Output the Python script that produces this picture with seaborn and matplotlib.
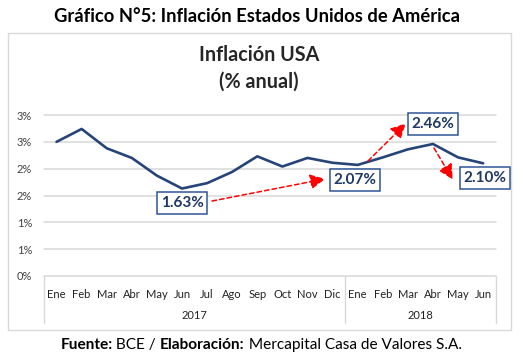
import matplotlib
matplotlib.use("Agg")
import matplotlib.pyplot as plt
import seaborn as sns
import pandas as pd
import numpy as np
from matplotlib.patches import Rectangle
from matplotlib.transforms import blended_transform_factory

# ---------------- data ----------------
months = ["Ene", "Feb", "Mar", "Abr", "May", "Jun", "Jul", "Ago", "Sep", "Oct", "Nov", "Dic",
          "Ene", "Feb", "Mar", "Abr", "May", "Jun"]
month_year = ["2017"] * 12 + ["2018"] * 6
inflation = [2.50, 2.74, 2.38, 2.20, 1.87, 1.63, 1.73, 1.94, 2.23, 2.04, 2.20, 2.11,
             2.07, 2.21, 2.36, 2.46, 2.21, 2.10]
highlight_idx = [5, 12, 15, 17]
yticks = [0, 0.5, 1.0, 1.5, 2.0, 2.5, 3.0]

df = pd.DataFrame({"idx": np.arange(len(months)), "mes": months, "anio": month_year, "valor": inflation})

sns.set_theme(style="white")
FONT = ["Lato", "DejaVu Sans"]
plt.rcParams["font.family"] = FONT

LINE = "#264478"
TXT = "#1F3864"
GRID = "#D9D9D9"
RED = "#FF0000"

fig = plt.figure(figsize=(5.23, 3.61), dpi=100)
W, H = 523, 361

# outer chart frame
fig.patches.append(Rectangle((8 / W, 1 - 330 / H), 503 / W, 297 / H, transform=fig.transFigure,
                             facecolor="none", edgecolor=GRID, lw=1.0, zorder=-1))

ax = fig.add_axes([44 / W, 1 - 276 / H, (495.7 - 44) / W, (276 - 115) / H])
ax.set_facecolor("none")
ax.set_zorder(2)

sns.lineplot(data=df, x="idx", y="valor", ax=ax, color=LINE, lw=1.9, zorder=3)

ax.set_xlim(-0.5, len(months) - 0.5)
ax.set_ylim(0, 3.0)
ax.set_yticks(yticks)
ax.set_yticklabels([f"{int(np.floor(v + 0.5))}%" for v in yticks])
ax.set_xticks(df["idx"])
ax.set_xticklabels(months)
ax.tick_params(axis="y", length=0, pad=8.5, labelsize=8, labelcolor="#404040")
ax.tick_params(axis="x", length=0, pad=9, labelsize=8, labelcolor="#222222")
ax.set_xlabel("")
ax.set_ylabel("")
for s in ax.spines.values():
    s.set_visible(False)
ax.grid(False)
for v in yticks:
    ax.axhline(v, color=GRID, lw=1.1, zorder=1, clip_on=False)

# year group labels and separators
bt = blended_transform_factory(ax.transData, ax.transAxes)
years = list(dict.fromkeys(month_year))
start = 0
bounds = [-0.5]
for y in years:
    n = month_year.count(y)
    ax.text(start + (n - 1) / 2, -0.245, y, transform=bt, ha="center", va="center",
            fontsize=8, color="#222222")
    start += n
    bounds.append(start - 0.5)
for b in bounds:
    ax.plot([b, b], [0, -0.295], transform=bt, color=GRID, lw=1.0, clip_on=False)

# titles
fig.text(256.5 / W, 1 - 17 / H, "Gráfico N°5: Inflación Estados Unidos de América",
         ha="center", va="center", fontsize=13.2, fontweight="bold", color="black")
fig.text(259 / W, 1 - 55 / H, "Inflación USA", ha="center", va="center",
         fontsize=14.2, fontweight="bold", color="#262626")
fig.text(259 / W, 1 - 82 / H, "(% anual)", ha="center", va="center",
         fontsize=14.2, fontweight="bold", color="#262626")

# footer (mixed bold/regular)
parts = [("Fuente:", "bold"), (" BCE / ", "normal"), ("Elaboración:", "bold"),
         (" Mercapital Casa de Valores S.A.", "normal")]
texts = []
for t, w in parts:
    a = fig.text(0, 1 - 345 / H, t, fontsize=11.1, fontweight=w, ha="left", va="center",
                 color="black")
    texts.append(a)
fig.canvas.draw()
r = fig.canvas.get_renderer()
widths = [t.get_window_extent(r).width for t in texts]
total = sum(widths)
x = 261 - total / 2
for t, wdt in zip(texts, widths):
    t.set_position((x / W, 1 - 345 / H))
    x += wdt


# helper: data point + screen pixel offset (dy positive = down) -> figure pixels
def fpx(i, dx, dy):
    px, py = ax.transData.transform((i, inflation[i]))
    return (px + dx, py - dy)


# labelled boxes
box_offsets = {5: (0, 14.5), 12: (-2.6, 15), 15: (0, -20), 17: (2, 15)}
for i in highlight_idx:
    dx, dy = box_offsets[i]
    ax.annotate(f"{inflation[i]:.2f}%", xy=fpx(i, dx, dy), xycoords="figure pixels",
                ha="center", va="center", fontsize=11, fontweight="bold", color=TXT,
                annotation_clip=False, zorder=6,
                bbox=dict(boxstyle="square,pad=0.25", fc="white", ec="#2F5597", lw=1.1))

# red dashed arrows
arrows = [((5, 30, 12.5), (12, -32.6, 14)),
          ((12, 10.4, -4), (15, -27.2, -20.5)),
          ((15, 1, 4), (17, -30.4, 16.2))]
for (i0, dx0, dy0), (i1, dx1, dy1) in arrows:
    ax.annotate("", xy=fpx(i1, dx1, dy1), xytext=fpx(i0, dx0, dy0),
                xycoords="figure pixels", textcoords="figure pixels", annotation_clip=False,
                arrowprops=dict(arrowstyle="-|>,head_length=0.75,head_width=0.38", color=RED,
                                lw=1.1, ls=(0, (3, 2)), shrinkA=0, shrinkB=0), zorder=5)

fig.savefig("out.png", dpi=100)
